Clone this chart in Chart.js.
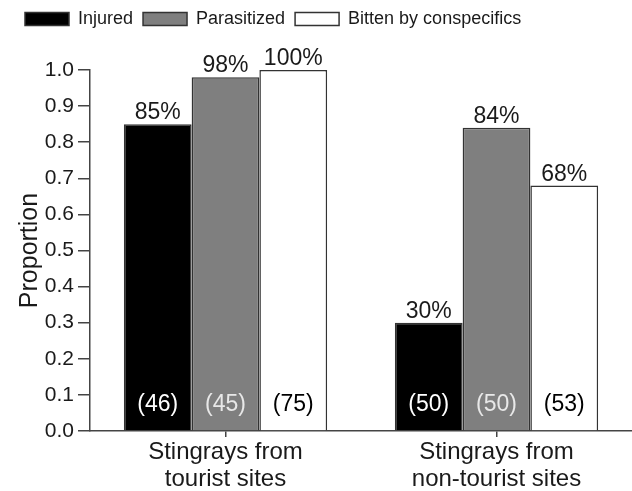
<!DOCTYPE html>
<html>
<head>
<meta charset="utf-8">
<script src="https://cdn.jsdelivr.net/npm/chart.js@4"></script>
<style>
  html, body { margin: 0; padding: 0; background: #fff; }
  #wrap { width: 632px; height: 491px; position: relative; }
</style>
</head>
<body>
<div id="wrap"><canvas id="chart"></canvas></div>
<script>
// data
const categories = [["Stingrays from", "tourist sites"], ["Stingrays from", "non-tourist sites"]];
const injured = [0.85, 0.30];
const parasitized = [0.98, 0.84];
const bitten = [1.00, 0.68];
const sampleInjured = [46, 50];
const sampleParasitized = [45, 50];
const sampleBitten = [75, 53];
const yTicks = [0, 0.1, 0.2, 0.3, 0.4, 0.5, 0.6, 0.7, 0.8, 0.9, 1.0];

const FONT = "'Liberation Sans', Arial, sans-serif";
const INK = "#1a1a1a";

// draws the % above each bar and the (n) inside near the bottom
const barLabels = {
  id: "barLabels",
  afterDatasetsDraw(chart) {
    const ctx = chart.ctx;
    const zero = chart.scales.y.getPixelForValue(0);
    ctx.save();
    ctx.textAlign = "center";
    ctx.font = "23px " + FONT;
    chart.data.datasets.forEach((ds, i) => {
      chart.getDatasetMeta(i).data.forEach((bar, j) => {
        ctx.fillStyle = INK;
        ctx.textBaseline = "alphabetic";
        ctx.fillText(Math.round(ds.data[j] * 100) + "%", bar.x, bar.y - 5);
        ctx.fillStyle = ds.nColor;
        ctx.fillText("(" + ds.n[j] + ")", bar.x, zero - 20);
      });
    });
    ctx.restore();
  }
};

new Chart(document.getElementById("chart"), {
  type: "bar",
  data: {
    labels: categories,
    datasets: [
      { label: "Injured", data: injured, n: sampleInjured, nColor: "#fff",
        backgroundColor: "#000", borderColor: "#333", borderWidth: 1.5 },
      { label: "Parasitized", data: parasitized, n: sampleParasitized, nColor: "#e8e8e8",
        backgroundColor: "#7f7f7f", borderColor: "#333", borderWidth: 1.5 },
      { label: "Bitten by conspecifics", data: bitten, n: sampleBitten, nColor: "#000",
        backgroundColor: "#fff", borderColor: "#333", borderWidth: 1.5 }
    ]
  },
  options: {
    responsive: true,
    maintainAspectRatio: false,
    animation: false,
    layout: { padding: { top: 0, left: 15, right: 0, bottom: 0 } },
    datasets: { bar: { categoryPercentage: 0.75, barPercentage: 1.0 } },
    plugins: {
      tooltip: { enabled: false },
      legend: {
        position: "top",
        align: "start",
        labels: {
          font: { family: FONT, size: 18 },
          color: INK,
          boxWidth: 44,
          boxHeight: 13,
          padding: 10
        }
      }
    },
    scales: {
      // empty axis above the plot, only to leave room for the top labels
      spacer: {
        type: "category",
        position: "top",
        grid: { display: false },
        border: { display: false },
        ticks: { display: false },
        afterFit(scale) { scale.height = 32; }
      },
      x: {
        grid: { display: true, drawOnChartArea: false, offset: false, tickLength: 6, color: "#444", lineWidth: 1.5 },
        border: { color: "#444", width: 1.5 },
        ticks: { font: { family: FONT, size: 24, lineHeight: 1.12 }, color: INK, padding: 2, maxRotation: 0 },
        afterFit(scale) { scale.height = 60; }
      },
      y: {
        min: 0,
        max: 1,
        afterBuildTicks(scale) { scale.ticks = yTicks.map(v => ({ value: v })); },
        grid: { display: true, drawOnChartArea: false, tickLength: 12, color: "#444", lineWidth: 1.5 },
        border: { color: "#444", width: 1.5 },
        ticks: {
          font: { family: FONT, size: 21 },
          color: INK,
          padding: 4,
          callback: v => v.toFixed(1)
        },
        title: { display: true, text: "Proportion", font: { family: FONT, size: 25 }, color: INK, padding: 0 },
        afterFit(scale) { scale.width = 75; }
      }
    }
  },
  plugins: [barLabels]
});
</script>
</body>
</html>
